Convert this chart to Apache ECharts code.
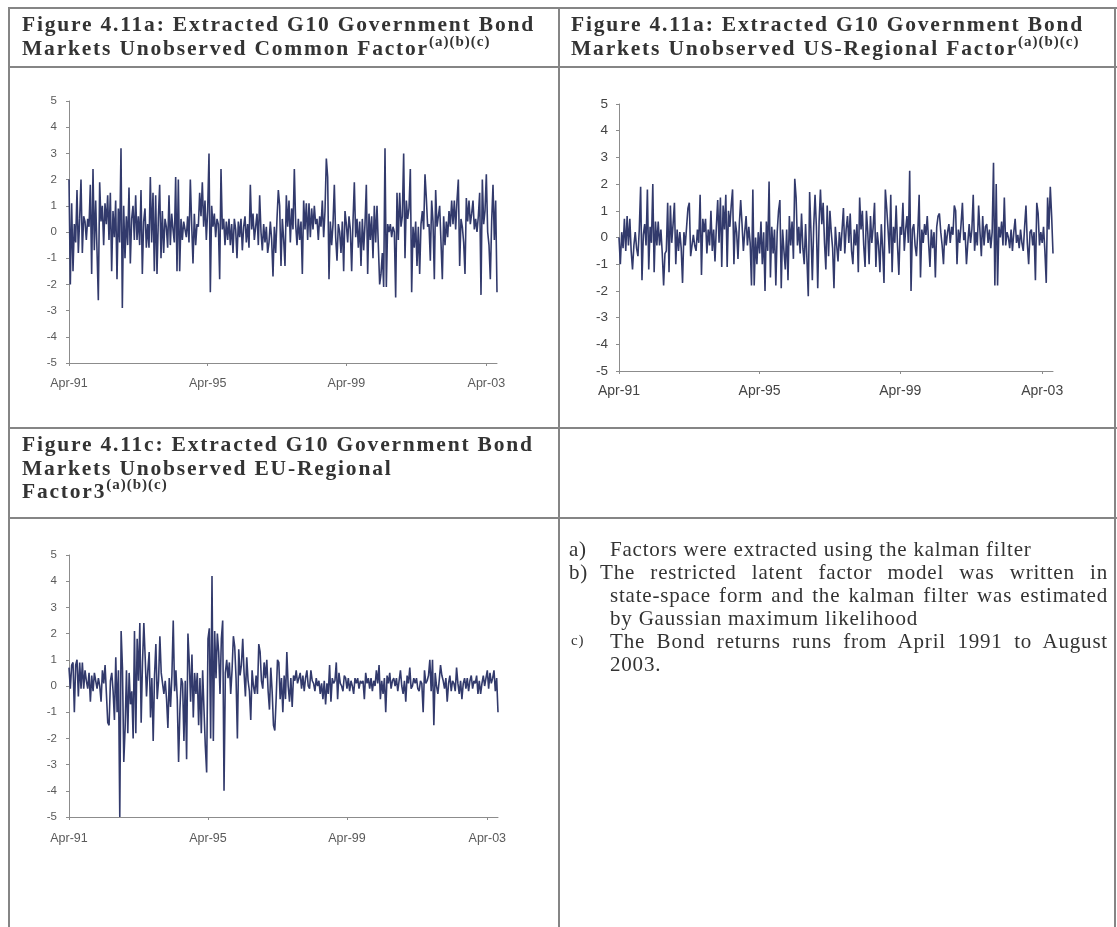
<!DOCTYPE html>
<html>
<head>
<meta charset="utf-8">
<title>Extracted G10 Government Bond Markets Unobserved Factors</title>
<script src="https://cdn.jsdelivr.net/npm/echarts@6/dist/echarts.min.js"></script>
<style>
  html, body { margin: 0; padding: 0; background: #fff; }
  #page { position: relative; width: 1117px; height: 927px; overflow: hidden; background: #fff; }
  #chart { position: absolute; left: 0; top: 0; width: 1117px; height: 927px; }
  .rule { position: absolute; background: #858585; }
  .t {
    position: absolute; white-space: nowrap; line-height: 1;
    font-family: 'Liberation Serif', 'Times New Roman', serif;
    font-weight: bold; font-size: 21.5px; letter-spacing: 1.8px; color: #333;
  }
  .t .sup { font-size: 15px; position: relative; top: -9px; letter-spacing: 1px; }
  .n {
    position: absolute; white-space: nowrap; line-height: 1;
    font-family: 'Liberation Serif', 'Times New Roman', serif;
    font-size: 21px; letter-spacing: 0.8px; color: #333;
  }
  .j { text-align: justify; text-align-last: justify; }
</style>
</head>
<body>
<div id="page">
  <div id="chart"></div>

  <!-- table rules -->
  <div class="rule" style="left:8px;top:7px;width:1109px;height:2px"></div>
  <div class="rule" style="left:8px;top:66px;width:1109px;height:2px"></div>
  <div class="rule" style="left:8px;top:427px;width:1109px;height:2px"></div>
  <div class="rule" style="left:8px;top:517px;width:1109px;height:2px"></div>
  <div class="rule" style="left:8px;top:7px;width:2px;height:920px"></div>
  <div class="rule" style="left:558px;top:7px;width:2px;height:920px"></div>
  <div class="rule" style="left:1114px;top:7px;width:2px;height:920px"></div>

  <!-- panel headings -->
  <div class="t" style="left:22px;top:14px">Figure 4.11a: Extracted G10 Government Bond</div>
  <div class="t" style="left:22px;top:38px">Markets Unobserved Common Factor<span class="sup">(a)(b)(c)</span></div>
  <div class="t" style="left:571px;top:14px">Figure 4.11a: Extracted G10 Government Bond</div>
  <div class="t" style="left:571px;top:38px">Markets Unobserved US-Regional Factor<span class="sup">(a)(b)(c)</span></div>
  <div class="t" style="left:22px;top:434px">Figure 4.11c: Extracted G10 Government Bond</div>
  <div class="t" style="left:22px;top:458px">Markets Unobserved EU-Regional</div>
  <div class="t" style="left:22px;top:481px">Factor3<span class="sup">(a)(b)(c)</span></div>

  <!-- notes -->
  <div class="n" style="left:569px;top:539px">a)</div>
  <div class="n" style="left:610px;top:539px">Factors were extracted using the kalman filter</div>
  <div class="n" style="left:569px;top:562px">b)</div>
  <div class="n j" style="left:600px;top:562px;width:508px">The restricted latent factor model was written in</div>
  <div class="n j" style="left:610px;top:585px;width:498px">state-space form and the kalman filter was estimated</div>
  <div class="n" style="left:610px;top:608px">by Gaussian maximum likelihood</div>
  <div class="n" style="left:571px;top:633px;font-size:15px">c)</div>
  <div class="n j" style="left:610px;top:631px;width:498px">The Bond returns runs from April 1991 to August</div>
  <div class="n" style="left:610px;top:654px">2003.</div>
</div>

<script>
// Fortnightly observations, 12 Apr 1991 to 1 Aug 2003
const startDate = Date.UTC(1991, 3, 12);
const pointCount = 322;
const monthNames = ['Jan','Feb','Mar','Apr','May','Jun','Jul','Aug','Sep','Oct','Nov','Dec'];
const dates = [];
for (let i = 0; i < pointCount; i++) {
  const d = new Date(startDate + i * 14 * 86400000);
  dates.push(monthNames[d.getUTCMonth()] + '-' + String(d.getUTCFullYear()).slice(2));
}

// Axis labels shown along the date axis
const tickLabels = ['Apr-91', 'Apr-95', 'Apr-99', 'Apr-03'];
const yTicks = [-5, -4, -3, -2, -1, 0, 1, 2, 3, 4, 5];

// Common factor
const commonFactor = [
  2.0, -2.0, 1.1, -1.5, 0.3, -0.4, 1.6, -0.8, 0.5, 2.0,
  -0.8, 0.6, 0.4, -0.3, 0.5, 0.2, 1.8, -1.6, 2.4, -0.7,
  1.2, -0.7, -2.6, 1.9, 0.4, 1.0, -0.5, 1.1, 0.3, 1.4,
  -0.3, 1.5, -1.5, 0.8, -0.2, 1.2, -1.8, 0.9, -0.4, 3.2,
  -2.9, 1.0, -1.0, 0.6, -0.5, 1.7, -1.2, 0.5, 1.0, -0.3,
  1.4, -0.3, 0.6, -0.5, 1.6, -1.6, 0.4, 0.9, -0.6, 0.3,
  -0.6, 2.1, -0.4, 1.5, -1.5, 1.4, -1.6, 0.5, 1.8, -1.0,
  0.8, -0.8, 0.5, 0.2, -0.6, 1.4, -0.5, 0.7, 0.1, -0.4,
  2.1, -1.5, 2.0, -1.5, 0.5, -0.3, 0.4, 0.1, -0.2, 0.6,
  -0.4, 2.0, 0.3, -1.2, 0.7, -0.5, 0.3, 0.2, 1.5, 0.6,
  1.9, 0.2, 1.2, -0.3, 0.8, 3.0, -2.3, 1.0, 0.2, 0.7,
  -0.2, 0.5, 0.3, -1.8, 2.4, 0.1, 0.5, -0.5, 0.4, -0.3,
  0.5, -0.5, 0.3, -0.8, 0.5, 0.1, -1.0, 0.4, -0.2, 0.5,
  -0.7, 0.2, 0.6, -0.4, 0.3, -0.6, 1.8, 0.1, 0.7, -0.3,
  0.2, 0.7, -0.5, 1.4, 0.0, -0.7, 0.3, -0.4, 0.2, -0.8,
  -0.4, 0.4, -0.3, -1.7, 0.2, -0.8, 0.5, 1.6, 1.0, -1.3,
  0.5, -0.3, -1.3, 1.4, 0.2, 1.2, -0.4, 0.9, 0.1, 2.4,
  0.3, -0.5, 0.5, -0.3, 0.4, -1.6, 1.2, 0.1, 1.1, -0.3,
  1.1, -0.2, 0.9, 0.1, 1.0, 0.3, 0.5, -0.3, 0.6, 0.2,
  1.2, -0.2, 0.8, 2.8, 2.1, -1.8, 0.4, -0.5, 0.3, 1.8,
  -0.2, -1.1, 0.3, 0.0, -0.8, 0.4, -1.5, 0.8, 0.3, -0.4,
  0.6, 0.1, -1.5, 0.4, 1.9, -0.2, 0.5, -0.6, 0.4, -1.3,
  0.5, -0.7, 0.3, 1.8, -1.6, 0.7, -0.3, 0.6, -1.0, 1.0,
  -0.4, 1.0, -0.5, -2.0, -1.6, -0.8, -2.1, 3.2, -2.1, 0.3,
  0.0, 0.3, -0.2, 0.2, 0.0, -2.5, 1.5, -0.3, 1.5, 0.2,
  0.6, 3.0, -1.0, 1.2, 0.5, 0.9, 2.4, -2.3, 0.2, -0.6,
  0.4, -1.3, 0.2, -1.6, 0.3, 0.8, 0.1, 2.2, 1.3, 0.2,
  0.3, -1.1, 1.2, 0.4, -1.8, 1.6, 0.2, 0.6, 1.0, -0.4,
  -1.8, 0.6, -0.5, 0.4, -0.2, 0.8, 0.2, 1.2, 0.3, 1.2,
  0.1, 1.2, 2.0, -1.3, 0.5, 0.2, -0.4, -1.6, 1.3, 0.4,
  1.2, 0.3, 0.7, 1.2, 0.1, 0.5, 0.0, 0.6, 1.5, -2.4,
  2.0, 0.3, 0.8, 2.2, 0.0, -0.5, -1.8, 0.4, 1.8, -0.3,
  1.2, -2.3
];

// US-Regional factor
const usFactor = [
  0.0, -1.0, 0.2, -0.4, 0.7, -0.5, 0.8, -0.3, 0.7, -0.5,
  -1.2, -0.3, 0.2, -0.4, -0.7, 0.3, 1.9, -1.6, 0.1, 0.5,
  -0.3, 1.8, -1.2, 0.4, -0.2, 2.0, -1.3, 0.6, -0.3, 0.6,
  -0.3, 0.3, -0.6, -1.8, -0.6, -0.5, 1.3, -1.3, 1.2, -0.2,
  0.5, 1.3, -1.0, 0.3, -0.5, 0.2, -0.4, -1.7, 0.2, -0.3,
  0.4, 1.1, 1.3, -0.7, -0.3, 0.1, -0.3, -0.5, 0.3, -0.2,
  1.6, -1.4, 0.7, 0.2, 0.7, -0.6, 0.3, -0.3, 1.0, -0.5,
  0.3, -0.9, 0.4, 1.4, -0.2, 1.5, -1.1, 1.2, 0.3, 1.6,
  -1.1, 1.0, 0.4, 1.2, 1.8, -1.0, 0.6, 0.2, -0.8, 0.5,
  1.4, 0.5, -0.5, 0.2, 0.8, -0.3, 0.4, -0.2, -1.8, 1.8,
  -1.8, 0.0, -1.0, 0.2, -0.6, 0.6, -1.0, 0.2, -2.0, 0.6,
  -0.5, 2.1, -1.5, 0.4, -0.6, 0.3, -1.8, 0.2, 1.0, 1.4,
  -1.9, 0.3, -0.5, -1.2, 0.3, -1.6, 0.8, -0.3, 0.6, -0.8,
  2.2, 1.5, -0.3, 0.4, -0.6, 0.9, -0.4, -1.0, 0.5, -0.8,
  -2.2, 1.7, 0.2, -1.6, 0.4, 1.6, 0.4, -1.9, 0.6, 1.8,
  0.5, 1.3, -0.2, -1.2, 1.2, -0.7, 1.0, 0.2, -0.4, -1.9,
  0.4, -0.3, -0.9, 0.2, -0.5, 0.3, 1.1, -0.6, 0.3, 0.8,
  -0.2, 0.9, -0.5, -1.0, 0.3, -0.3, 0.5, -1.3, 1.5, 0.3,
  1.0, -0.3, -1.1, 1.0, 0.2, -1.0, 0.8, -0.2, 0.4, 1.3,
  -1.1, 0.2, -0.3, -1.3, 0.5, -0.4, -1.7, 1.8, 1.1, 0.3,
  -0.6, 1.6, -1.3, 0.4, -0.2, 1.2, -0.3, -1.4, 0.4, 0.1,
  1.3, -0.5, 0.3, 0.8, -0.2, 2.5, -2.0, 0.3, 0.5, -0.3,
  -0.7, 0.2, 1.6, -1.5, 0.3, -0.2, 0.5, 0.1, 0.8, -0.2,
  -1.1, 0.3, -0.4, 0.2, -1.5, 0.4, 0.8, 0.9, 0.2, -0.3,
  -1.0, 0.3, -0.3, 0.2, 0.5, -0.2, 0.4, 0.1, 1.2, 1.0,
  -1.0, 0.3, -0.2, 0.5, 1.3, -0.1, 0.2, -1.0, -0.2, 0.5,
  -0.2, 0.3, 1.6, -0.5, 0.2, -0.3, 1.2, 0.2, -0.7, 0.8,
  -0.3, 0.4, 0.5, -0.2, 0.3, -0.4, 0.2, 2.8, -1.8, 2.0,
  -1.8, 0.4, 0.0, 0.6, -0.3, 1.5, -0.3, 0.2, 0.0, -0.4,
  0.3, -0.5, 0.2, 0.7, -0.2, 0.1, -0.4, 0.3, -0.2, -0.5,
  0.4, 1.2, -0.2, -1.0, 0.2, 0.3, -0.3, 0.2, -1.6, 1.3,
  0.9, -0.3, 0.2, -0.2, 0.4, -0.5, -1.7, 1.5, 0.3, 1.9,
  0.8, -0.6
];

// EU-Regional factor
const euFactor = [
  0.7, -0.1, 0.8, 0.9, -1.0, 0.8, 1.0, -0.4, 0.9, -0.1,
  0.9, -0.1, 0.6, 0.2, -0.1, 0.5, -0.6, 0.4, -0.2, 0.5,
  0.2, -0.1, 0.3, 0.0, -0.6, 0.6, 0.1, 0.8, -0.3, -1.4,
  -1.5, 0.2, 0.5, -0.2, -1.3, 1.1, -1.0, 0.6, -5.0, 2.1,
  0.7, -2.9, -1.6, 0.6, -1.8, 0.5, -0.7, -0.2, -2.0, 2.1,
  -1.8, 1.8, 0.2, 2.4, -1.4, 0.9, 2.4, 1.1, -0.4, 0.6,
  1.3, -1.2, 0.3, -2.1, 0.4, 1.6, -0.5, 0.2, 1.9, 0.5,
  0.5, -0.3, 0.2, -0.5, -1.6, 0.3, -0.8, 0.4, 2.5, -0.2,
  0.6, -0.5, -2.9, -0.9, 0.3, 0.1, -2.1, 0.2, -2.8, 2.0,
  0.9, -0.6, 1.2, -1.2, 0.5, -0.3, 0.5, -1.5, 0.3, -1.8,
  0.6, -0.9, -2.3, -3.3, 1.8, 2.2, -2.0, 4.2, -2.1, 2.1,
  0.3, 2.0, 1.3, -0.3, 1.8, 2.5, -4.0, 0.5, 1.0, 0.3,
  0.9, -0.3, 0.6, 1.9, 1.5, 0.3, -2.0, 1.4, 0.4, 0.8,
  1.8, 0.5, -0.4, 1.1, 0.2, -0.2, -1.3, 0.6, 0.0, -0.3,
  0.4, -0.3, 1.6, 1.3, 0.2, -0.1, 0.9, 0.3, 1.0, -0.2,
  -0.9, 0.7, -0.2, -1.5, -1.7, -0.5, 1.0, 0.9, -0.5, 0.3,
  -1.0, 0.4, -0.5, 1.3, 0.0, -0.6, 0.3, -0.8, 0.4, 0.2,
  0.6, 0.1, 0.3, 0.5, -0.1, 0.4, -0.2, 0.3, 0.6, 0.0,
  -0.1, 0.6, 0.2, 0.1, -0.2, 0.3, 0.0, 0.2, -0.3, 0.1,
  -0.5, 0.2, -0.7, 0.1, -0.3, 0.8, -0.6, 0.3, 0.1, 0.2,
  0.9, -0.5, 0.5, 0.1, 0.0, -0.2, 0.4, 0.3, -0.1, 0.3,
  -0.2, 0.2, 0.0, -0.3, 0.3, 0.1, 0.3, -0.1, 0.2, 0.1,
  0.2, -0.5, 0.5, 0.1, 0.3, -0.1, 0.3, -0.2, 0.2, 0.0,
  0.6, 0.1, 0.8, -0.5, 0.2, -0.3, 0.3, -1.0, 0.4, 0.1,
  0.5, -0.1, 0.2, 0.3, 0.0, 0.3, -0.2, 0.2, 0.6, 0.0,
  -0.3, 0.2, -0.6, 0.4, 0.1, 0.7, -0.1, 0.0, 0.3, 0.1,
  0.3, -0.1, -0.2, 0.2, 0.1, -1.0, 0.6, 0.1, 0.2, 0.4,
  1.0, -0.2, 1.0, -1.5, 0.5, 0.0, -0.3, 0.2, 0.8, 0.4,
  0.2, -0.1, 0.3, -0.6, 0.1, 0.4, -0.2, 0.2, 0.1, -0.2,
  0.7, 0.1, -0.3, 0.2, -0.5, 0.1, 0.3, -0.1, 0.3, -0.2,
  0.2, 0.4, -0.1, 0.2, 0.1, 0.4, -0.3, 0.2, -0.3, 0.1,
  0.4, 0.0, 0.3, 0.6, -0.1, 0.5, 0.1, 0.3, 0.6, -0.2,
  0.3, -1.0
];

const lineColor = '#323a6c';
const axisColor = '#8c8c8c';

// show a date label / tick only at the first fortnight of each labelled April
const firstIndex = {};
dates.forEach((d, i) => { if (tickLabels.includes(d) && !(d in firstIndex)) firstIndex[d] = i; });
const labelIndices = new Set(Object.values(firstIndex));
const showAt = (i) => labelIndices.has(i);

function makeX(gridIndex, fontSize, labelColor, margin) {
  return {
    type: 'category', gridIndex: gridIndex, data: dates, boundaryGap: false,
    axisLine: { onZero: false, lineStyle: { color: axisColor, width: 1 } },
    axisTick: { show: true, interval: showAt, length: 3, inside: false, lineStyle: { color: axisColor } },
    axisLabel: {
      interval: showAt, margin: margin, color: labelColor, fontSize: fontSize,
      hideOverlap: false, fontFamily: 'Liberation Sans, Arial, sans-serif'
    },
    splitLine: { show: false }
  };
}
function makeY(gridIndex, fontSize, labelColor, margin) {
  return {
    type: 'value', gridIndex: gridIndex, min: yTicks[0], max: yTicks[yTicks.length - 1], interval: 1,
    axisLine: { show: true, onZero: false, lineStyle: { color: axisColor, width: 1 } },
    axisTick: { show: true, length: 3, inside: false, lineStyle: { color: axisColor } },
    axisLabel: { margin: margin, color: labelColor, fontSize: fontSize, fontFamily: 'Liberation Sans, Arial, sans-serif' },
    splitLine: { show: false }
  };
}
function makeSeries(idx, values) {
  return {
    type: 'line', xAxisIndex: idx, yAxisIndex: idx, data: values,
    symbol: 'none', smooth: false,
    lineStyle: { color: lineColor, width: 1.6 },
    emphasis: { disabled: true }
  };
}

const chart = echarts.init(document.getElementById('chart'), null, { renderer: 'canvas' });
chart.setOption({
  animation: false,
  backgroundColor: 'transparent',
  grid: [
    { left: 69, top: 101, width: 428, height: 262 },
    { left: 619, top: 104, width: 434, height: 267 },
    { left: 69, top: 555, width: 429, height: 262 }
  ],
  xAxis: [
    makeX(0, 12.5, '#5a5a5a', 14),
    makeX(1, 14, '#444', 13),
    makeX(2, 12.5, '#5a5a5a', 15)
  ],
  yAxis: [
    makeY(0, 11.5, '#5a5a5a', 12),
    makeY(1, 13.5, '#444', 11),
    makeY(2, 11.5, '#5a5a5a', 12)
  ],
  series: [
    makeSeries(0, commonFactor),
    makeSeries(1, usFactor),
    makeSeries(2, euFactor)
  ]
});
</script>
</body>
</html>
